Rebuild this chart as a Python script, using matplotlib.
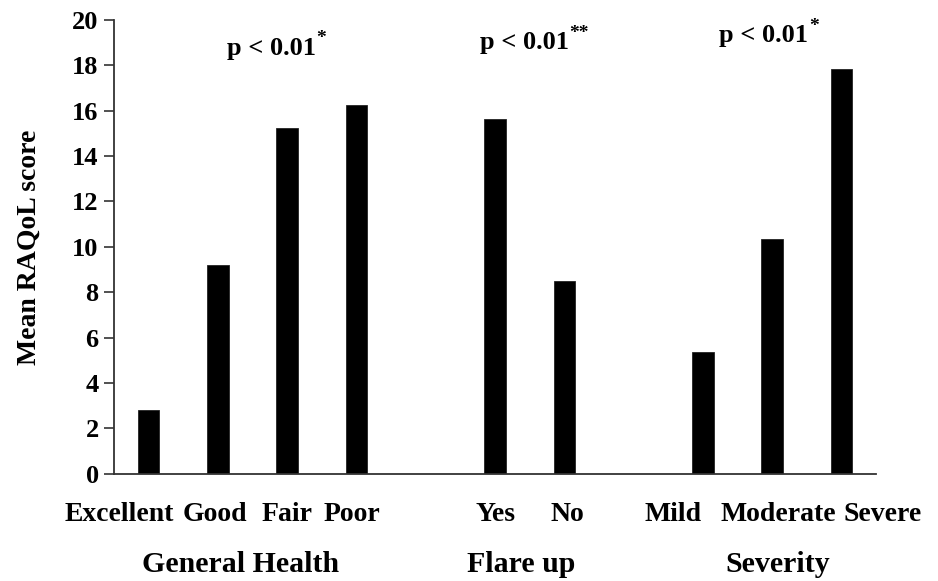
import numpy as np
import matplotlib
matplotlib.use("Agg")
import matplotlib.pyplot as plt
import matplotlib.transforms as mtransforms

plt.rcParams['font.family'] = ['Liberation Serif', 'DejaVu Serif']
plt.rcParams['font.weight'] = 'bold'

# data
groups = ['General Health', 'Flare up', 'Severity']
categories = [['Excellent', 'Good', 'Fair', 'Poor'],
              ['Yes', 'No'],
              ['Mild', 'Moderate', 'Severe']]
scores = [[2.8, 9.2, 15.25, 16.25],
          [15.65, 8.5],
          [5.35, 10.35, 17.85]]
p_texts = ['p < 0.01', 'p < 0.01', 'p < 0.01']
p_stars = ['*', '**', '*']

# layout
label_shift = [[-0.42, -0.04, 0.0, -0.07], [0.0, 0.04], [-0.43, 0.09, 0.59]]
group_shift = [-0.17, -0.12, 0.08]
p_pos = [(1.77, 18.75), (5.42, 19.0), (8.88, 19.3)]

fig = plt.figure(figsize=(9.38, 5.81), dpi=100)
ax = fig.add_axes([0.1215, 0.1847, 0.8125, 0.7809])

trans = mtransforms.blended_transform_factory(ax.transData, ax.transAxes)
x0 = 0
for g, (name, cats, vals) in enumerate(zip(groups, categories, scores)):
    xs = np.arange(x0, x0 + len(cats))
    ax.bar(xs, vals, width=0.31, color='black', edgecolor='#222222', linewidth=0.6)
    for x, c, s in zip(xs, cats, label_shift[g]):
        ax.text(x + s, -0.091, c, transform=trans, ha='center', va='center',
                fontsize=20, fontweight='bold')
    ax.text(xs.mean() + group_shift[g], -0.201, name, transform=trans,
            ha='center', va='center', fontsize=21.5, fontweight='bold')
    px, py = p_pos[g]
    t = ax.text(px, py, p_texts[g], ha='center', va='center', fontsize=19,
                fontweight='bold')
    ax.annotate(p_stars[g], xy=(1.0, 0.55), xycoords=t, xytext=(0.3, 0),
                textcoords='offset points', ha='left', va='bottom',
                fontsize=14, fontweight='bold')
    x0 += len(cats) + 1

ax.set_xlim(-0.5, 10.5)
ax.set_ylim(0, 20)
ax.set_yticks(np.arange(0, 21, 2))
ax.set_xticks([])
ax.tick_params(axis='y', direction='out', length=7, width=1.2, pad=4,
               labelsize=19, color='#333333')
for lab in ax.get_yticklabels():
    lab.set_fontweight('bold')
ax.spines['top'].set_visible(False)
ax.spines['right'].set_visible(False)
ax.spines['left'].set_color('#333333')
ax.spines['bottom'].set_color('#333333')
ax.spines['left'].set_linewidth(1.3)
ax.spines['bottom'].set_linewidth(1.3)

ax.set_ylabel('Mean RAQoL score', fontsize=20, fontweight='bold', labelpad=22)

fig.savefig('out.png', dpi=100)
